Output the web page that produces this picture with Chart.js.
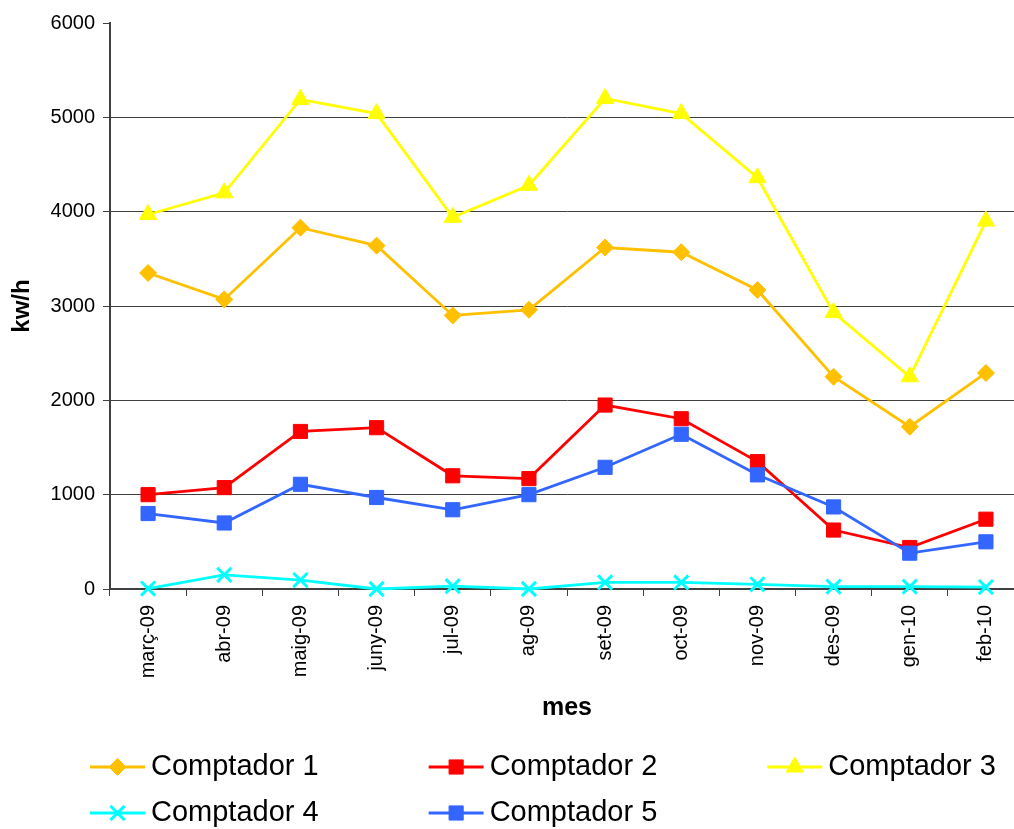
<!DOCTYPE html>
<html>
<head>
<meta charset="utf-8">
<script src="https://cdn.jsdelivr.net/npm/chart.js@4.4.1/dist/chart.umd.min.js"></script>
<style>
  html, body { margin: 0; padding: 0; background: #fff; overflow: hidden; }
  #wrap { width: 1014px; height: 829px; overflow: hidden; }
</style>
</head>
<body>
<div id="wrap"><canvas id="LineChartComptadors" width="1040" height="829"></canvas></div>
<script>
// Mesos (eix X)
const mesos = ['març-09', 'abr-09', 'maig-09', 'juny-09', 'jul-09', 'ag-09',
               'set-09', 'oct-09', 'nov-09', 'des-09', 'gen-10', 'feb-10'];

// Consum de cada comptador (kw/h)
const comptador1 = [3350, 3070, 3830, 3640, 2900, 2960, 3620, 3570, 3170, 2250, 1720, 2290];
const comptador2 = [1000, 1075, 1670, 1710, 1200, 1170, 1950, 1805, 1350, 625, 440, 740];
const comptador3 = [3970, 4200, 5190, 5040, 3940, 4280, 5200, 5040, 4360, 2930, 2250, 3900];
const comptador4 = [5, 150, 95, 0, 30, 0, 70, 70, 50, 25, 25, 20];
const comptador5 = [800, 700, 1110, 970, 840, 1000, 1290, 1640, 1210, 870, 380, 500];

// Ticks eix Y
const yTicks = [0, 1000, 2000, 3000, 4000, 5000, 6000];

function serie(label, values, color, style, radius, pointBorder, order) {
    return {
        label: label,
        data: values,
        borderColor: color,
        backgroundColor: color,
        borderWidth: 2.8,
        pointStyle: style,
        pointRadius: radius,
        pointHoverRadius: radius,
        pointBackgroundColor: color,
        pointBorderColor: color,
        pointBorderWidth: pointBorder,
        tension: 0,
        fill: false,
        clip: false,
        order: order // l'ultima serie es dibuixa a sobre, com a Excel
    };
}

// Llegenda dibuixada a ma (3 columnes, alineada a l'esquerra)
const llegenda = {
    id: 'llegenda',
    afterDraw(chart) {
        const ctx = chart.ctx;
        let x = 90, y = 767;
        ctx.save();
        ctx.font = '29px "Liberation Sans", Arial, sans-serif';
        ctx.textBaseline = 'middle';
        ctx.textAlign = 'left';
        chart.data.datasets.forEach(ds => {
            const w = 55 + 6 + ctx.measureText(ds.label).width;
            if (x + w > 1010) { x = 90; y += 46; }
            ctx.strokeStyle = ds.borderColor;
            ctx.lineWidth = ds.borderWidth;
            ctx.beginPath();
            ctx.moveTo(x, y);
            ctx.lineTo(x + 55, y);
            ctx.stroke();
            ctx.fillStyle = ds.pointBackgroundColor;
            ctx.strokeStyle = ds.pointBorderColor;
            ctx.lineWidth = ds.pointBorderWidth;
            Chart.helpers.drawPoint(ctx, {
                pointStyle: ds.pointStyle,
                radius: ds.pointRadius,
                rotation: 0,
                borderWidth: ds.pointBorderWidth
            }, x + 27.5, y);
            ctx.fillStyle = '#000';
            ctx.fillText(ds.label, x + 61, y);
            x += w + 110;
        });
        ctx.restore();
    }
};

const data = {
    labels: mesos,
    datasets: [
        serie('Comptador 1', comptador1, '#FFC000', 'rectRot', 8.5, 1, 5),
        serie('Comptador 2', comptador2, '#FF0000', 'rect', 10, 1, 4),
        serie('Comptador 3', comptador3, '#FFFF00', 'triangle', 10, 1, 3),
        serie('Comptador 4', comptador4, '#00FFFF', 'crossRot', 10, 3, 2),
        serie('Comptador 5', comptador5, '#3366FF', 'rect', 10, 1, 1)
    ]
};

const config = {
    type: 'line',
    data: data,
    plugins: [llegenda],
    options: {
        responsive: false,
        animation: false,
        devicePixelRatio: 1,
        layout: {
            padding: { left: 0, top: 23, right: 16, bottom: 106 }
        },
        plugins: {
            legend: { display: false },
            tooltip: { enabled: false }
        },
        scales: {
            x: {
                offset: true,
                afterFit: (s) => { s.height = 134; },
                grid: {
                    offset: true,
                    drawOnChartArea: false,
                    drawTicks: true,
                    tickLength: 7,
                    tickColor: '#404040'
                },
                border: { display: true, color: '#404040', width: 2 },
                ticks: {
                    autoSkip: false,
                    minRotation: 90,
                    maxRotation: 90,
                    padding: 9,
                    color: '#000',
                    font: { family: '"Liberation Sans", Arial, sans-serif', size: 20 }
                },
                title: {
                    display: true,
                    text: 'mes',
                    color: '#000',
                    padding: { top: 0, bottom: 0 },
                    font: { family: '"Liberation Sans", Arial, sans-serif', size: 25, weight: 'bold' }
                }
            },
            y: {
                min: 0,
                max: 6000,
                afterFit: (s) => { s.width = 110; },
                afterBuildTicks: (s) => { s.ticks = yTicks.map(v => ({ value: v })); },
                grid: {
                    color: (c) => (c.tick && c.tick.value === 6000) ? 'rgba(0,0,0,0)' : '#404040',
                    lineWidth: 1,
                    drawTicks: true,
                    tickLength: 7,
                    tickColor: '#404040'
                },
                border: { display: true, color: '#404040', width: 2 },
                ticks: {
                    padding: 8,
                    color: '#000',
                    callback: (v) => String(v),
                    font: { family: '"Liberation Sans", Arial, sans-serif', size: 20 }
                },
                title: {
                    display: true,
                    text: 'kw/h',
                    color: '#000',
                    padding: { top: 8, bottom: 0 },
                    font: { family: '"Liberation Sans", Arial, sans-serif', size: 24, weight: 'bold' }
                }
            }
        }
    }
};

new Chart(document.getElementById('LineChartComptadors'), config);
</script>
</body>
</html>
